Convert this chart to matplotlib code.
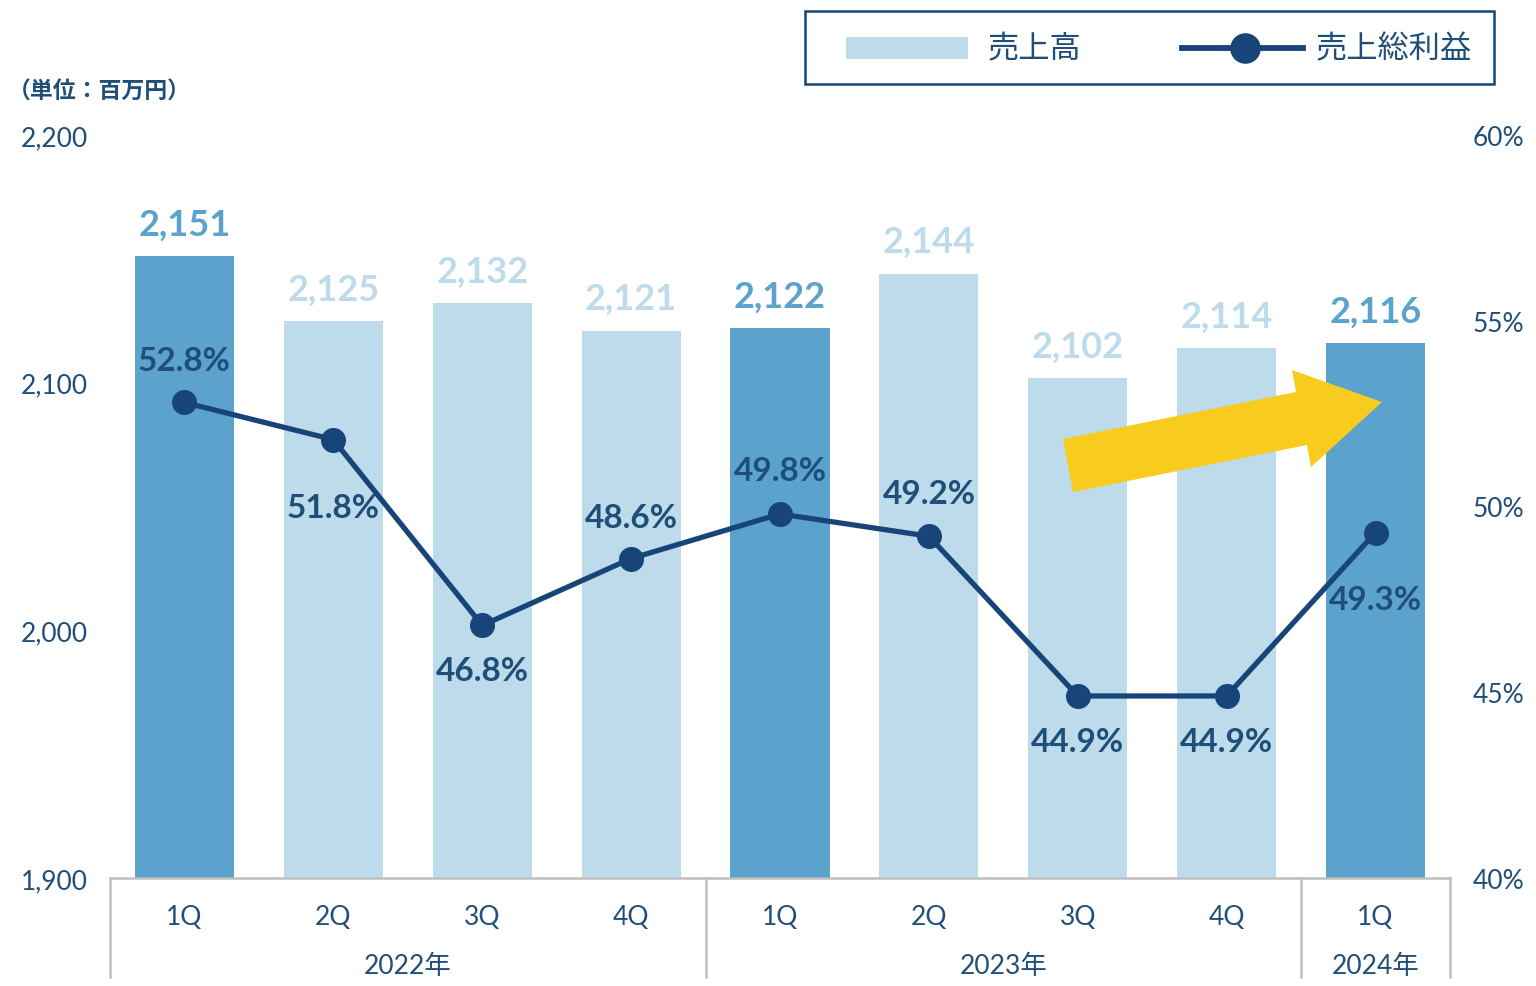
import matplotlib
matplotlib.use("Agg")
import matplotlib.pyplot as plt
from matplotlib.patches import Rectangle, Polygon
from matplotlib.lines import Line2D
import matplotlib.transforms as mtransforms

plt.rcParams['font.family'] = ['Lato', 'Noto Sans CJK JP', 'DejaVu Sans']

# ---- data ----
quarters = ["1Q", "2Q", "3Q", "4Q", "1Q", "2Q", "3Q", "4Q", "1Q"]
years = ["2022年", "2023年", "2024年"]
year_spans = [(0, 3), (4, 7), (8, 8)]
sales = [2151, 2125, 2132, 2121, 2122, 2144, 2102, 2114, 2116]
gross_margin = [52.8, 51.8, 46.8, 48.6, 49.8, 49.2, 44.9, 44.9, 49.3]
left_ticks = [1900, 2000, 2100, 2200]
right_ticks = [40, 45, 50, 55, 60]

# ---- styles ----
DARK = "#5BA3CC"
LIGHT = "#BDDBEA"
NAVY = "#17457A"
TXT = "#1F4E79"
GREY = "#BFBFBF"
highlight = [q == "1Q" for q in quarters]
bar_colors = [DARK if h else LIGHT for h in highlight]
pct_offsets_px = [-42, 68, 45, -41, -43, -43, 46, 46, 67]

W, H = 1536, 987
fig = plt.figure(figsize=(W / 100, H / 100), dpi=100)
ax = fig.add_axes([110 / W, 1 - 879 / H, 1340 / W, 743 / H])
ax2 = ax.twinx()

x = list(range(len(quarters)))
ax.bar(x, sales, width=0.665, color=bar_colors, zorder=2)
ax.set_xlim(-0.5, len(quarters) - 0.5)
ax.set_ylim(1900, 2200)
ax.set_yticks(left_ticks)
ax.set_yticklabels([f"{v:,}" for v in left_ticks])
ax.tick_params(axis='y', length=0, pad=16, labelsize=19, labelcolor=TXT)
ax.set_xticks([])

for spine in ["top", "left", "right"]:
    ax.spines[spine].set_visible(False)
    ax2.spines[spine].set_visible(False)
ax2.spines["bottom"].set_visible(False)
ax.spines["bottom"].set_color(GREY)
ax.spines["bottom"].set_linewidth(1.8)

# bar value labels
for xi, v, c in zip(x, sales, bar_colors):
    ax.annotate(f"{v:,}", (xi, v), xytext=(0, 23), textcoords="offset points",
                ha="center", va="center", fontsize=26, fontweight="bold", color=c)

# line on secondary axis
ax2.plot(x, gross_margin, color=NAVY, lw=3.8, marker="o", ms=17, zorder=5)
ax2.set_ylim(40, 60)
ax2.set_yticks(right_ticks)
ax2.set_yticklabels([f"{v}%" for v in right_ticks])
ax2.tick_params(axis='y', length=0, pad=16, labelsize=19, labelcolor=TXT)
for xi, v, off in zip(x, gross_margin, pct_offsets_px):
    ax2.annotate(f"{v:.1f}%", (xi, v), xytext=(0, -off * 0.72), textcoords="offset points",
                 ha="center", va="center", fontsize=24, fontweight="bold", color=TXT)

# category axis (quarters + years)
trans = mtransforms.blended_transform_factory(ax.transData, ax.transAxes)
for xi, q in zip(x, quarters):
    ax.text(xi, -0.052, q, transform=trans, ha="center", va="center",
            fontsize=19, color=TXT)
for (a, b), y in zip(year_spans, years):
    ax.text((a + b) / 2, -0.118, y, transform=trans, ha="center", va="center",
            fontsize=19, color=TXT)
bounds = sorted({a - 0.5 for a, b in year_spans} | {b + 0.5 for a, b in year_spans})
for bx in bounds:
    ax.add_line(Line2D([bx, bx], [0, -0.133], transform=trans, color=GREY,
                       lw=1.8, clip_on=False))

# unit label
fig.text(8 / W, 1 - 92 / H, "（単位：百万円）", fontsize=16.5, fontweight="bold",
         color=TXT, ha="left", va="center",
         family=['Noto Sans CJK JP', 'DejaVu Sans'])

# legend (manual)
def fx(px):
    return px / W
def fy(py):
    return 1 - py / H

fig.add_artist(Rectangle((fx(805), fy(85)), fx(1494) - fx(805), fy(12) - fy(85),
                         transform=fig.transFigure, fill=False, edgecolor=NAVY, lw=1.8))
fig.add_artist(Rectangle((fx(846), fy(60)), fx(968) - fx(846), fy(38) - fy(60),
                         transform=fig.transFigure, facecolor=LIGHT, edgecolor="none"))
fig.text(fx(988), fy(49), "売上高", fontsize=22.5, color=TXT, va="center", ha="left",
         family=['Noto Sans CJK JP', 'DejaVu Sans'])
fig.add_artist(Line2D([fx(1182), fx(1303)], [fy(49), fy(49)], transform=fig.transFigure,
                      color=NAVY, lw=4.2))
fig.add_artist(Line2D([fx(1245)], [fy(49)], transform=fig.transFigure, color=NAVY,
                      marker="o", ms=21))
fig.text(fx(1316), fy(49), "売上総利益", fontsize=22.5, color=TXT, va="center", ha="left",
         family=['Noto Sans CJK JP', 'DejaVu Sans'])

# yellow arrow annotation
arrow_px = [(1073, 493), (1063, 440), (1296, 393), (1292, 371), (1382, 403),
            (1311, 468), (1307, 446)]
fig.add_artist(Polygon([(fx(a), fy(b)) for a, b in arrow_px], closed=True,
                       transform=fig.transFigure, facecolor="#F7CC1F", edgecolor="none",
                       zorder=10))

fig.savefig("out.png", dpi=100)
